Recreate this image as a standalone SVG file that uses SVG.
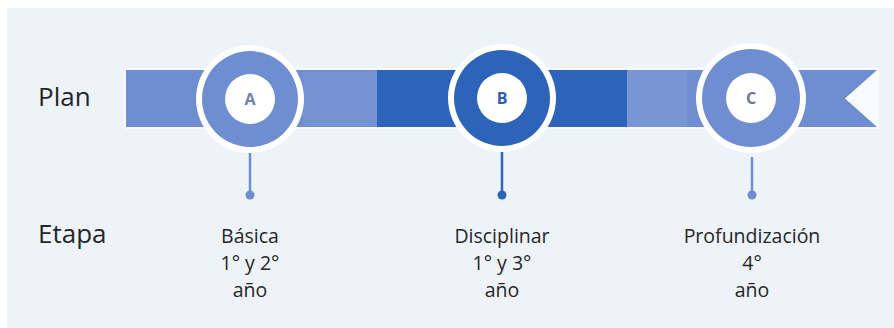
<svg xmlns="http://www.w3.org/2000/svg" width="894" height="328" viewBox="0 0 894 328">
  <style>
    .lbl { font-family: "Open Sans", "Noto Sans", "DejaVu Sans", sans-serif; fill: #262626; }
    .row { font-size: 26px; }
    .stage { font-size: 19.5px; text-anchor: middle; }
    .letter { font-family: "Open Sans", "Noto Sans", sans-serif; font-size: 16px; font-weight: bold; text-anchor: middle; }
    .halo { fill: #ffffff; }
    .hole { fill: #ffffff; }
  </style>
  <rect x="0" y="0" width="894" height="328" fill="#ffffff"/>
  <rect x="7" y="8" width="887" height="320" fill="#eef3fa"/>

  <g id="ribbon">
    <rect x="124" y="68" width="755" height="61" fill="#ffffff" opacity="0.6"/>
    <rect x="126" y="70" width="251" height="57" fill="#6e8ed1"/>
    <rect x="303" y="70" width="74" height="57" fill="#7593d3"/>
    <rect x="377" y="70" width="250" height="57" fill="#2d63b8"/>
    <polygon points="627,70 877,70 845,98.5 877,127 627,127" fill="#6e8ed1"/>
    <rect x="627" y="70" width="60" height="57" fill="#7896d4"/>
  </g>

  <g id="labels">
    <text class="lbl row" x="38" y="106">Plan</text>
    <text class="lbl row" x="38" y="243">Etapa</text>
  </g>

  <g id="connectors">
    <line x1="250" y1="146" x2="250" y2="195" stroke="#6e8ed1" stroke-width="2.5"/>
    <circle cx="250" cy="195" r="4.5" fill="#6e8ed1"/>
    <line x1="502" y1="146" x2="502" y2="195" stroke="#2d63b8" stroke-width="2.5"/>
    <circle cx="502" cy="195" r="4.5" fill="#2d63b8"/>
    <line x1="752" y1="157" x2="752" y2="195" stroke="#6e8ed1" stroke-width="2.5"/>
    <circle cx="752" cy="195" r="4.5" fill="#6e8ed1"/>
  </g>

  <g id="nodeA">
    <circle class="halo" cx="250" cy="99" r="54"/>
    <circle cx="250" cy="99" r="48" fill="#6e8ed1"/>
    <circle class="hole" cx="250" cy="99" r="25"/>
    <text class="letter" x="250" y="105" fill="#6d82b6">A</text>
    <text class="lbl stage" x="250" y="243">Básica</text>
    <text class="lbl stage" x="250" y="270">1° y 2°</text>
    <text class="lbl stage" x="250" y="297">año</text>
  </g>

  <g id="nodeB">
    <circle class="halo" cx="502" cy="98" r="54"/>
    <circle cx="502" cy="98" r="48" fill="#2d63b8"/>
    <circle class="hole" cx="502" cy="98" r="25"/>
    <text class="letter" x="502" y="104" fill="#2d5fb2">B</text>
    <text class="lbl stage" x="502" y="243">Disciplinar</text>
    <text class="lbl stage" x="502" y="270">1° y 3°</text>
    <text class="lbl stage" x="502" y="297">año</text>
  </g>

  <g id="nodeC">
    <circle class="halo" cx="751" cy="98" r="55"/>
    <circle cx="751" cy="98" r="49" fill="#6e8ed1"/>
    <circle class="hole" cx="751" cy="98" r="25"/>
    <text class="letter" x="751" y="104" fill="#6b7799" font-size="14">C</text>
    <text class="lbl stage" x="752" y="243">Profundización</text>
    <text class="lbl stage" x="752" y="270">4°</text>
    <text class="lbl stage" x="752" y="297">año</text>
  </g>
</svg>
